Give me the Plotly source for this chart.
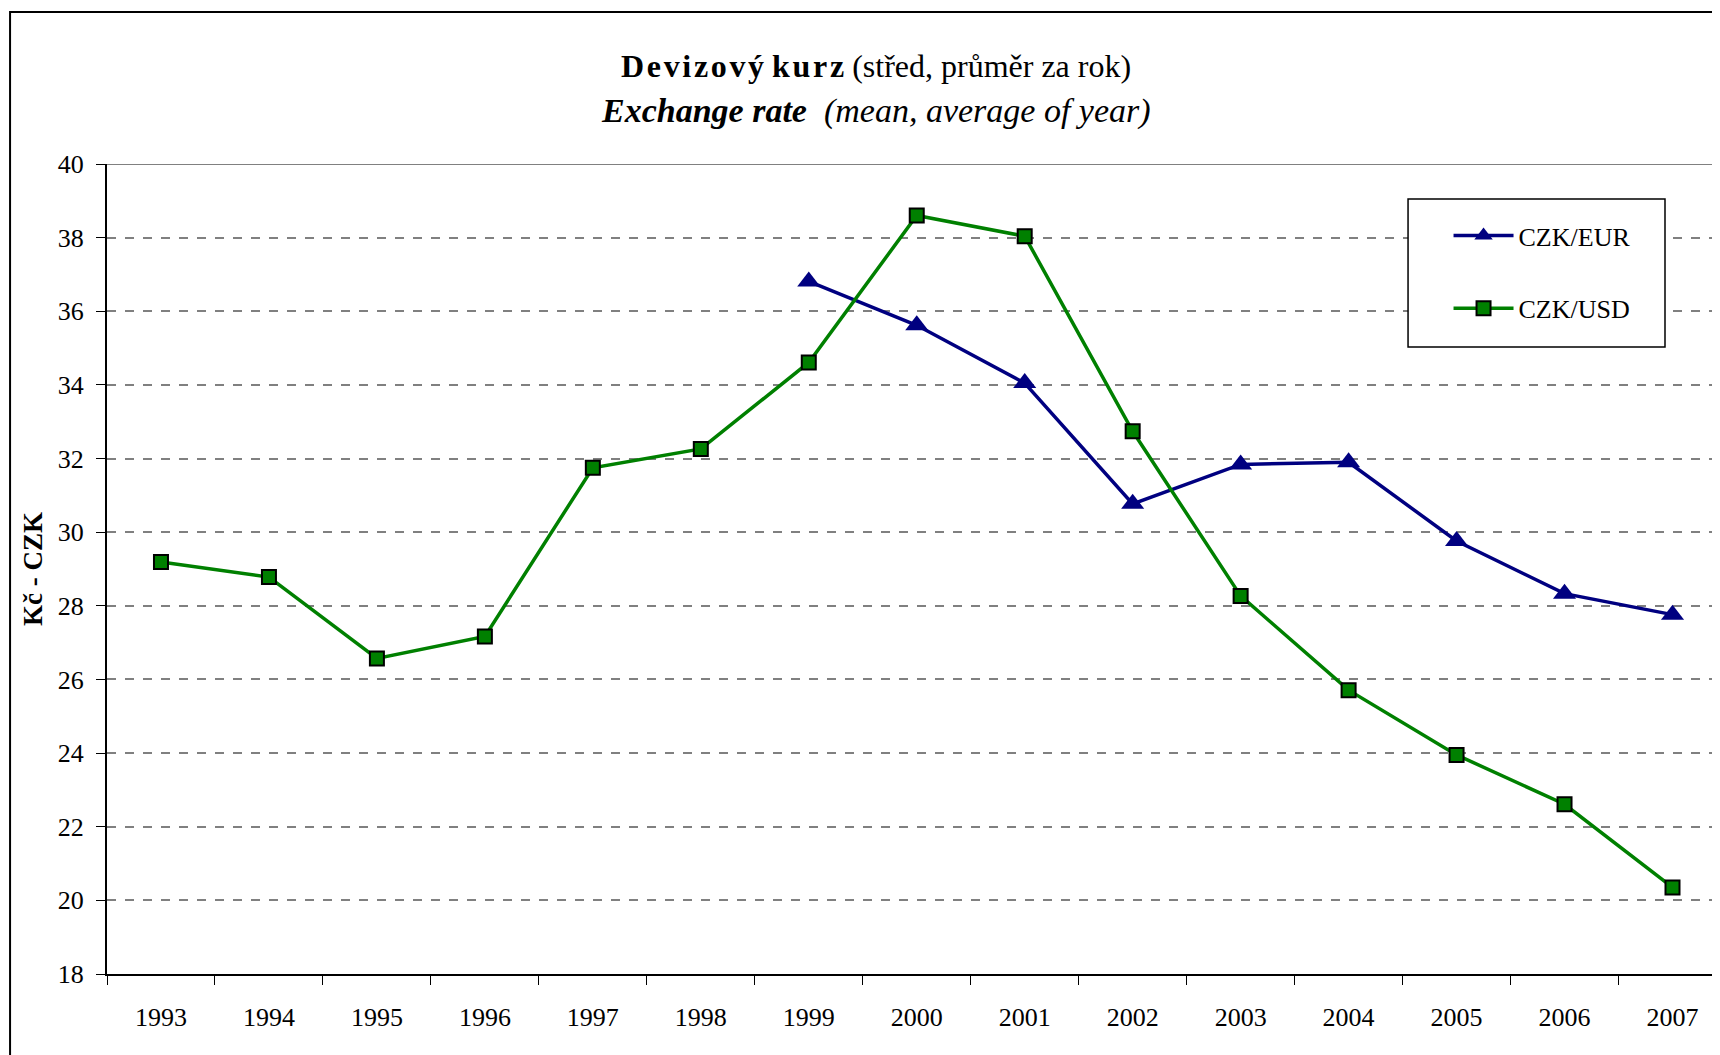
from __future__ import annotations

import plotly.graph_objects as go

SLUG = "czk_exchange_rate"

YEARS = [str(y) for y in range(1993, 2008)]
CZK_EUR = [None, None, None, None, None, None, 36.81, 35.62, 34.05, 30.77, 31.84, 31.90, 29.76, 28.33, 27.76]
CZK_USD = [29.19, 28.78, 26.57, 27.17, 31.75, 32.26, 34.61, 38.60, 38.04, 32.74, 28.27, 25.71, 23.95, 22.61, 20.35]

SERIF = "Liberation Serif, Times New Roman, serif"
HS = "\u200a"  # hair space for the letter-spaced heading


def main() -> None:
    fig = go.Figure()
    fig.add_trace(go.Scatter(
        x=YEARS, y=CZK_EUR, name="CZK/EUR", mode="lines+markers", legendgroup="eur",
        line={"color": "#000080", "width": 3.5},
        marker={"symbol": "triangle-up", "size": 20, "color": "#000080"},
    ))
    fig.add_trace(go.Scatter(
        x=YEARS, y=CZK_USD, name="CZK/USD", mode="lines+markers", legendgroup="usd",
        line={"color": "#008000", "width": 3.5},
        marker={"symbol": "square", "size": 14, "color": "#008000", "line": {"color": "#000000", "width": 2}},
    ))

    # two-line heading, set as separate annotations to keep the mixed styles
    fig.add_annotation(
        text="<b>" + HS.join("Devizový") + " " + HS.join("kurz") + "</b> (střed, průměr za rok)",
        xref="paper", yref="paper", x=0.477, y=1.121, yanchor="middle", showarrow=False,
        font={"family": SERIF, "size": 32, "color": "#000000"},
    )
    fig.add_annotation(
        text="<b><i>Exchange rate</i></b>  <i>(mean, average of year)</i>",
        xref="paper", yref="paper", x=0.477, y=1.065, yanchor="middle", showarrow=False,
        font={"family": SERIF, "size": 34, "color": "#000000"},
    )
    fig.add_annotation(
        text="<b>Kč - CZK</b>", textangle=-90,
        xref="paper", yref="paper", x=-0.0459, y=0.5, xanchor="center", yanchor="middle", showarrow=False,
        font={"family": SERIF, "size": 27, "color": "#000000"},
    )  # y-axis title
    fig.add_shape(type="line", xref="paper", yref="y", x0=0, x1=1, y0=40, y1=40,
                  line={"color": "#808080", "width": 2})  # top edge of plot
    fig.add_shape(type="rect", xref="paper", yref="paper", x0=-0.0601, x1=1.2, y0=-0.3, y1=1.1877,
                  line={"color": "#000000", "width": 2})  # outer frame
    fig.add_shape(type="rect", xref="paper", yref="paper", x0=0.8066, x1=0.9659, y0=0.7741, y1=0.9568,
                  fillcolor="#ffffff", layer="above",
                  line={"color": "#000000", "width": 1.5})  # legend box

    fig.update_layout(
        template="plotly_white",
        width=1712,
        height=1047,
        font={"family": SERIF, "size": 26, "color": "#000000"},
        plot_bgcolor="#ffffff",
        paper_bgcolor="#ffffff",
        xaxis={
            "type": "category",
            "range": [-0.5, 14.44],
            "showgrid": False,
            "showline": True,
            "linecolor": "#000000",
            "linewidth": 2,
            "ticks": "outside",
            "tickson": "boundaries",
            "ticklen": 9,
            "tickcolor": "#000000",
            "ticklabelstandoff": 19,
            "tickfont": {"size": 26},
        },
        yaxis={
            "range": [18, 40],
            "dtick": 2,
            "showgrid": True,
            "gridcolor": "#808080",
            "griddash": "dash",
            "gridwidth": 1.5,
            "zeroline": False,
            "showline": True,
            "linecolor": "#000000",
            "linewidth": 2,
            "ticks": "outside",
            "ticklen": 9,
            "tickcolor": "#000000",
            "ticklabelstandoff": 7,
            "tickfont": {"size": 26},
        },
        legend={
            "x": 0.8317,
            "y": 0.9407,
            "xanchor": "left",
            "yanchor": "top",
            "bgcolor": "rgba(0,0,0,0)",
            "borderwidth": 0,
            "tracegroupgap": 36,
            "itemwidth": 60,
            "font": {"size": 26},
        },
        margin={"l": 99, "r": 0, "t": 156, "b": 81},
        showlegend=True,
    )
    fig.write_html("out.html")


if __name__ == "__main__":
    main()
